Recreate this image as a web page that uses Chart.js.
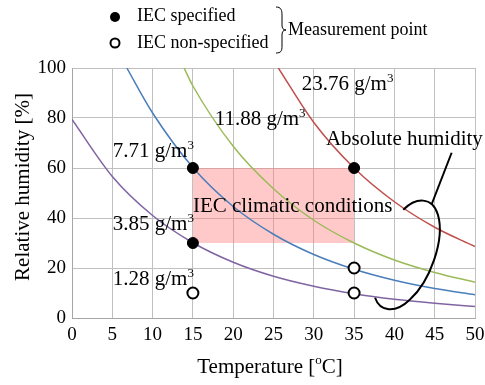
<!DOCTYPE html>
<html>
<head>
<meta charset="utf-8">
<script src="https://cdn.jsdelivr.net/npm/chart.js@4"></script>
<style>
html, body { margin: 0; padding: 0; background: #fff; overflow: hidden; }
#warm { position: absolute; left: -999px; top: 0; font-family: "Liberation Serif"; font-size: 19px; }
</style>
</head>
<body>
<div id="warm">Temperature 0123456789 g/m</div>
<canvas id="c" width="485" height="385"></canvas>
<script>
// relative humidity [%]
const tempPurple = [0, 5, 10, 15, 20, 25, 30, 35, 40, 45, 50];
const rhPurple = [79.4, 56.6, 41.0, 30.1, 22.3, 16.7, 12.7, 9.7, 7.5, 5.9, 4.6];
const tempBlue = [6.8, 10, 15, 20, 25, 30, 35, 40, 45, 50];
const rhBlue = [100, 82.0, 60.2, 44.6, 33.5, 25.4, 19.5, 15.1, 11.8, 9.3];
const tempGreen = [13.9, 15, 20, 25, 30, 35, 40, 45, 50];
const rhGreen = [100, 92.8, 68.7, 51.7, 39.1, 30.0, 23.2, 18.2, 14.3];
const tempRed = [25.6, 30, 35, 40, 45, 50];
const rhRed = [100, 78.2, 60.0, 46.5, 36.3, 28.6];

// measurement points
const specTemp = [15, 15, 35];
const specRH = [60, 30, 60];
const nonSpecTemp = [15, 35, 35];
const nonSpecRH = [10, 20, 10];

// IEC climatic conditions box
const boxTemp = [15, 35];
const boxRH = [30, 60];

const ahLabels = ['1.28', '3.85', '7.71', '11.88', '23.76'];
const xTickStep = 5;
const yTickStep = 10;

const serifFam = '"Liberation Serif", serif';

function pts(xs, ys) {
    return xs.map((x, i) => ({x: x, y: ys[i]}));
}

function curve(xs, ys, color) {
    return {
        data: pts(xs, ys),
        showLine: true,
        borderColor: color,
        borderWidth: 1.5,
        pointRadius: 0,
        cubicInterpolationMode: 'monotone'
    };
}

function setFont(c, size) {
    c.font = size + 'px ' + serifFam;
}

// text with a superscript tail, e.g. g/m3
function supText(c, base, sup, x, y, align, size) {
    const small = Math.round(size * 0.6);
    setFont(c, size);
    const wb = c.measureText(base).width;
    setFont(c, small);
    const ws = c.measureText(sup).width;
    let left = x;
    if (align === 'right') left = x - wb - ws;
    if (align === 'center') left = x - (wb + ws) / 2;
    c.textAlign = 'left';
    setFont(c, size);
    c.fillText(base, left, y);
    setFont(c, small);
    c.fillText(sup, left + wb, y - size * 0.3);
}

const overlay = {
    id: 'overlay',
    afterDraw(chart) {
        const c = chart.ctx;
        const xs = chart.scales.x, ys = chart.scales.y;
        const px = v => xs.getPixelForValue(v);
        const py = v => ys.getPixelForValue(v);
        const fs = 21;
        c.save();
        c.fillStyle = '#000';
        c.textBaseline = 'middle';

        // absolute humidity labels
        supText(c, ahLabels[2] + ' g/m', '3', px(15) + 1, py(66.5), 'right', fs);
        supText(c, ahLabels[1] + ' g/m', '3', px(15) + 1, py(37.3), 'right', fs);
        supText(c, ahLabels[0] + ' g/m', '3', px(15) + 1, py(15.3), 'right', fs);
        supText(c, ahLabels[3] + ' g/m', '3', px(17.7), py(79.3), 'left', fs);
        supText(c, ahLabels[4] + ' g/m', '3', px(28.5), py(93.3), 'left', fs);

        setFont(c, fs);
        c.textAlign = 'left';
        c.fillText('Absolute humidity', px(31.5), py(71.3));
        c.fillText('IEC climatic conditions', px(15), py(44.5));

        // pointer + loop around the curves
        c.strokeStyle = '#000';
        c.lineWidth = 2;
        c.beginPath();
        c.moveTo(px(47.1), py(66.1));
        c.lineTo(px(44.6), py(45.3));
        c.stroke();
        c.beginPath();
        c.moveTo(px(37.6), py(8.1));
        c.bezierCurveTo(px(38.2), py(2.5), px(40.1), py(1.7), px(41.9), py(7.3));
        c.bezierCurveTo(px(44.4), py(14.5), px(46.3), py(31.3), px(45.4), py(41.3));
        c.bezierCurveTo(px(44.7), py(48.9), px(42.6), py(48.1), px(41.1), py(43.3));
        c.stroke();

        // axis titles
        setFont(c, fs);
        c.save();
        c.translate(23, 187);
        c.rotate(-Math.PI / 2);
        c.textAlign = 'center';
        c.fillText('Relative humidity [%]', 0, 0);
        c.restore();
        setFont(c, fs);
        const t1 = 'Temperature [', t3 = 'C]';
        const w1 = c.measureText(t1).width, w3 = c.measureText(t3).width;
        setFont(c, 13);
        const w2 = c.measureText('o').width;
        const lx = 270 - (w1 + w2 + w3) / 2;
        c.textAlign = 'left';
        setFont(c, fs);
        c.fillText(t1, lx, 367);
        setFont(c, 13);
        c.fillText('o', lx + w1, 361);
        setFont(c, fs);
        c.fillText(t3, lx + w1 + w2, 367);

        // legend
        c.lineWidth = 2;
        c.beginPath();
        c.arc(115, 17, 5, 0, Math.PI * 2);
        c.fill();
        c.beginPath();
        c.arc(115, 43, 4.5, 0, Math.PI * 2);
        c.fillStyle = '#fff';
        c.fill();
        c.stroke();
        c.fillStyle = '#000';
        setFont(c, 18);
        c.fillText('IEC specified', 137, 16);
        c.fillText('IEC non-specified', 137, 43);
        c.fillText('Measurement point', 288, 30);
        c.lineWidth = 1;
        c.beginPath();
        c.moveTo(276, 7);
        c.bezierCurveTo(281, 7, 282, 10, 282, 15);
        c.lineTo(282, 25);
        c.bezierCurveTo(282, 28, 283, 30, 286, 30);
        c.bezierCurveTo(283, 30, 282, 32, 282, 35);
        c.lineTo(282, 46);
        c.bezierCurveTo(282, 51, 281, 53, 276, 53);
        c.stroke();

        c.restore();
    }
};

function draw() {
    Chart.defaults.font.family = serifFam;
    new Chart(document.getElementById('c'), {
        type: 'scatter',
        data: {
            datasets: [
                {
                    data: pts(specTemp, specRH),
                    pointRadius: 5.5,
                    backgroundColor: '#000',
                    borderColor: '#000',
                    borderWidth: 1
                },
                {
                    data: pts(nonSpecTemp, nonSpecRH),
                    pointRadius: 5.5,
                    backgroundColor: '#fff',
                    borderColor: '#000',
                    borderWidth: 2
                },
                curve(tempPurple, rhPurple, '#8064a2'),
                curve(tempBlue, rhBlue, '#4a7ebb'),
                curve(tempGreen, rhGreen, '#9bbb59'),
                curve(tempRed, rhRed, '#c0504d'),
                {
                    data: [{x: boxTemp[0], y: boxRH[1]}, {x: boxTemp[1], y: boxRH[1]}],
                    showLine: true,
                    borderWidth: 0,
                    borderColor: 'rgba(0,0,0,0)',
                    pointRadius: 0,
                    fill: {value: boxRH[0]},
                    backgroundColor: 'rgba(255,120,120,0.4)'
                }
            ]
        },
        options: {
            responsive: false,
            animation: false,
            events: [],
            plugins: {legend: {display: false}, tooltip: {enabled: false}},
            layout: {padding: {top: 68, right: 0, left: 0, bottom: 0}},
            scales: {
                x: {
                    type: 'linear',
                    min: 0,
                    max: 50,
                    ticks: {stepSize: xTickStep, color: '#000', padding: 6, font: {family: serifFam, size: 19}},
                    grid: {color: '#c0c0c0', drawTicks: false},
                    border: {color: '#a6a6a6'},
                    afterFit(s) {
                        s.height = 67;
                        s.paddingLeft = 0;
                        s.paddingRight = 10;
                    }
                },
                y: {
                    min: 0,
                    max: 100,
                    ticks: {
                        stepSize: yTickStep,
                        color: '#000',
                        padding: 6,
                        font: {family: serifFam, size: 19},
                        callback: v => (v % 20 === 0 ? v : '')
                    },
                    grid: {color: '#c0c0c0', drawTicks: false},
                    border: {color: '#a6a6a6'},
                    afterFit(s) {
                        s.width = 72;
                        s.paddingTop = 0;
                        s.paddingBottom = 0;
                    }
                }
            }
        },
        plugins: [overlay]
    });
}

document.fonts.load('19px "Liberation Serif"').then(
    () => requestAnimationFrame(draw),
    () => requestAnimationFrame(draw)
);
</script>
</body>
</html>
